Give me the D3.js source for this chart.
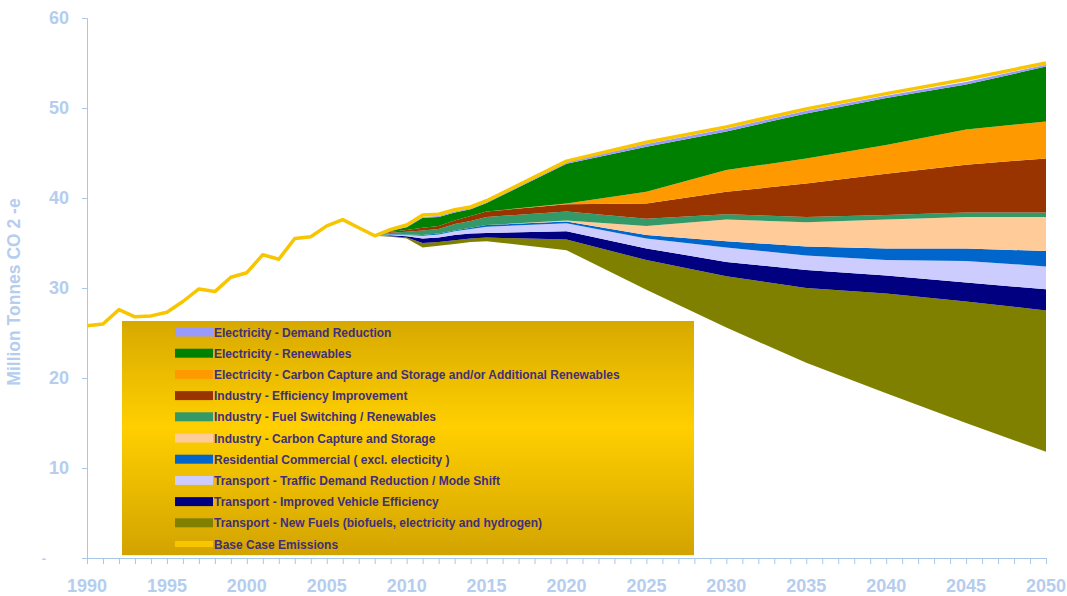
<!DOCTYPE html>
<html>
<head>
<meta charset="utf-8">
<script src="https://cdn.jsdelivr.net/npm/d3@7"></script>
<style>
  body { margin: 0; background: #fff; }
  svg { display: block; font-family: Arial, "Liberation Sans", sans-serif; }
</style>
</head>
<body>
<div id="chart"></div>
<script>
// historic + projected base case
const baseYears = [1990, 1991, 1992, 1993, 1994, 1995, 1996, 1997, 1998, 1999, 2000,
  2001, 2002, 2003, 2004, 2005, 2006, 2007, 2008, 2009, 2010, 2011, 2012, 2013, 2014,
  2015, 2020, 2025, 2030, 2035, 2040, 2045, 2050];
const baseCase = [25.8, 26.0, 27.6, 26.8, 26.9, 27.3, 28.5, 29.9, 29.6, 31.2, 31.7,
  33.7, 33.2, 35.5, 35.7, 36.9, 37.6, 36.7, 35.8, 36.5, 37.0, 38.1, 38.2, 38.7, 39.0,
  39.7, 44.1, 46.2, 47.9, 49.9, 51.6, 53.2, 55.0];

// abatement wedges (Mt CO2-e), stacked on top of the remaining emissions
const years = [2008, 2009, 2010, 2011, 2012, 2013, 2014, 2015, 2020, 2025, 2030, 2035, 2040, 2045, 2050];
const remaining      = [35.8, 35.7, 35.5, 34.5, 34.7, 34.9, 35.1, 35.2, 34.2, 29.8, 25.6, 21.7, 18.3, 15.0, 11.8];
const newFuels       = [0, 0.05, 0.1, 0.5, 0.4, 0.4, 0.4, 0.4, 1.2, 3.3, 5.7, 8.3, 11.1, 13.5, 15.7];
const vehicleEff     = [0, 0.1, 0.15, 0.5, 0.5, 0.6, 0.55, 0.5, 0.9, 1.3, 1.6, 2.0, 2.0, 2.1, 2.35];
const trafficDemand  = [0, 0.1, 0.15, 0.3, 0.35, 0.4, 0.5, 0.7, 0.9, 1.1, 1.6, 1.6, 1.7, 2.4, 2.55];
const residential    = [0, 0.05, 0.05, 0.1, 0.1, 0.1, 0.15, 0.2, 0.2, 0.4, 0.7, 1.0, 1.3, 1.4, 1.7];
const industryCCS    = [0, 0, 0, 0, 0, 0, 0, 0, 0.1, 1.0, 2.4, 2.7, 3.2, 3.5, 3.8];
const fuelSwitching  = [0, 0.15, 0.3, 0.5, 0.5, 0.7, 0.75, 0.9, 1.0, 0.8, 0.6, 0.6, 0.5, 0.5, 0.5];
const industryEff    = [0, 0.1, 0.2, 0.3, 0.35, 0.4, 0.55, 0.6, 0.8, 1.7, 2.5, 3.7, 4.6, 5.3, 6.0];
const elecCCS        = [0, 0, 0, 0, 0, 0, 0, 0, 0.1, 1.3, 2.4, 2.8, 3.2, 3.9, 4.1];
const renewables     = [0, 0.15, 0.3, 1.1, 1.0, 0.9, 0.75, 0.95, 4.4, 5.0, 4.3, 5.0, 5.2, 5.0, 6.1];
const demandRed      = [0, 0.05, 0.05, 0.1, 0.1, 0.1, 0.1, 0.1, 0.2, 0.3, 0.3, 0.3, 0.25, 0.3, 0.2];

const seriesNames = [
  "Electricity - Demand Reduction",
  "Electricity - Renewables",
  "Electricity - Carbon Capture and Storage and/or Additional Renewables",
  "Industry - Efficiency Improvement",
  "Industry - Fuel Switching / Renewables",
  "Industry - Carbon Capture and Storage",
  "Residential Commercial ( excl. electicity )",
  "Transport - Traffic Demand Reduction / Mode Shift",
  "Transport - Improved Vehicle Efficiency",
  "Transport - New Fuels (biofuels, electricity and hydrogen)"
];
const seriesColors = ["#9999ff", "#008000", "#ff9900", "#993300", "#339966",
  "#ffcc99", "#0066cc", "#ccccff", "#000080", "#808000"];
const seriesValues = [demandRed, renewables, elecCCS, industryEff, fuelSwitching,
  industryCCS, residential, trafficDemand, vehicleEff, newFuels];
const baseName = "Base Case Emissions";
const baseColor = "#f7c600";

const yTicks = [0, 10, 20, 30, 40, 50, 60];
const xTicks = [1990, 1995, 2000, 2005, 2010, 2015, 2020, 2025, 2030, 2035, 2040, 2045, 2050];

const width = 1067, height = 596;
const axisColor = "#a9c7e6";
const labelColor = "#b5cdee";

const svg = d3.select('#chart')
  .append('svg')
  .attr('width', width)
  .attr('height', height);

const x = d3.scaleLinear().domain([1990, 2050]).range([87, 1046]);
const y = d3.scaleLinear().domain([0, 60]).range([558, 18]);

// stack table: remaining at bottom, then wedges from bottom (new fuels) up
const keys = ['remaining'].concat(seriesNames.slice().reverse());
const table = years.map((yr, i) => {
  const row = { year: yr, remaining: remaining[i] };
  seriesNames.forEach((n, j) => { row[n] = seriesValues[j][i]; });
  return row;
});
const stacked = d3.stack().keys(keys)(table);
const colorOf = {};
seriesNames.forEach((n, j) => colorOf[n] = seriesColors[j]);

const area = d3.area()
  .x(d => x(d.data.year))
  .y0(d => y(d[0]))
  .y1(d => y(d[1]));

svg.append('g')
  .selectAll('path')
  .data(stacked.filter(s => s.key !== 'remaining'))
  .join('path')
  .attr('d', area)
  .attr('fill', s => colorOf[s.key]);

// base case line
const line = d3.line()
  .x((d, i) => x(baseYears[i]))
  .y(d => y(d));

svg.append('path')
  .datum(baseCase)
  .attr('d', line)
  .attr('fill', 'none')
  .attr('stroke', baseColor)
  .attr('stroke-width', 3.5)
  .attr('stroke-linejoin', 'round');

// axes
const yAxis = svg.append('g')
  .attr('transform', `translate(${x(1990)},0)`)
  .call(d3.axisLeft(y).tickValues(yTicks).tickSize(5).tickPadding(13)
    .tickFormat(d => d === 0 ? '-' : d));
yAxis.select('.domain').attr('stroke', axisColor);
yAxis.selectAll('.tick line').attr('stroke', axisColor);
yAxis.selectAll('.tick text')
  .attr('fill', labelColor)
  .style('font-size', '18px')
  .style('font-weight', 'bold');
yAxis.selectAll('.tick text').filter(d => d === 0)
  .attr('x', -41)
  .style('font-size', '13px');

const xAxis = svg.append('g')
  .attr('transform', `translate(0,${y(0)})`)
  .call(d3.axisBottom(x).tickValues(d3.range(1990, 2051)).tickSize(6).tickFormat(''));
xAxis.select('.domain').attr('stroke', axisColor);
xAxis.selectAll('.tick line').attr('stroke', axisColor);

svg.append('g')
  .selectAll('text')
  .data(xTicks)
  .join('text')
  .attr('x', d => x(d))
  .attr('y', 592)
  .attr('text-anchor', 'middle')
  .attr('fill', labelColor)
  .style('font-size', '18px')
  .style('font-weight', 'bold')
  .text(d => d);

svg.append('text')
  .attr('transform', 'translate(20,292) rotate(-90)')
  .attr('text-anchor', 'middle')
  .attr('fill', labelColor)
  .style('font-size', '17.5px')
  .style('font-weight', 'bold')
  .text('Million Tonnes CO 2 -e');

// legend
const defs = svg.append('defs');
const grad = defs.append('linearGradient')
  .attr('id', 'legendBg')
  .attr('x1', 0).attr('y1', 0).attr('x2', 0).attr('y2', 1);
grad.append('stop').attr('offset', '0%').attr('stop-color', '#d7a900');
grad.append('stop').attr('offset', '45%').attr('stop-color', '#ffcf00');
grad.append('stop').attr('offset', '100%').attr('stop-color', '#d2a300');

const legend = svg.append('g');
legend.append('rect')
  .attr('x', 122).attr('y', 321)
  .attr('width', 572).attr('height', 235)
  .attr('fill', 'url(#legendBg)');
legend.append('line')
  .attr('x1', 122).attr('x2', 694)
  .attr('y1', 555.5).attr('y2', 555.5)
  .attr('stroke', '#fff3c0')
  .attr('stroke-width', 1);

const legendItems = seriesNames.map((n, j) => ({ name: n, color: seriesColors[j], h: 9 }))
  .concat([{ name: baseName, color: baseColor, h: 6 }]);

const rows = legend.selectAll('g.item')
  .data(legendItems)
  .join('g')
  .attr('class', 'item')
  .attr('transform', (d, i) => `translate(0,${332 + i * 21.2})`);

rows.append('rect')
  .attr('x', 175)
  .attr('y', d => -d.h / 2)
  .attr('width', 38)
  .attr('height', d => d.h)
  .attr('fill', d => d.color);

rows.append('text')
  .attr('x', 214)
  .attr('y', 4.5)
  .attr('fill', '#3f2f7c')
  .style('font-size', '12px')
  .style('font-weight', 'bold')
  .text(d => d.name);
</script>
</body>
</html>
